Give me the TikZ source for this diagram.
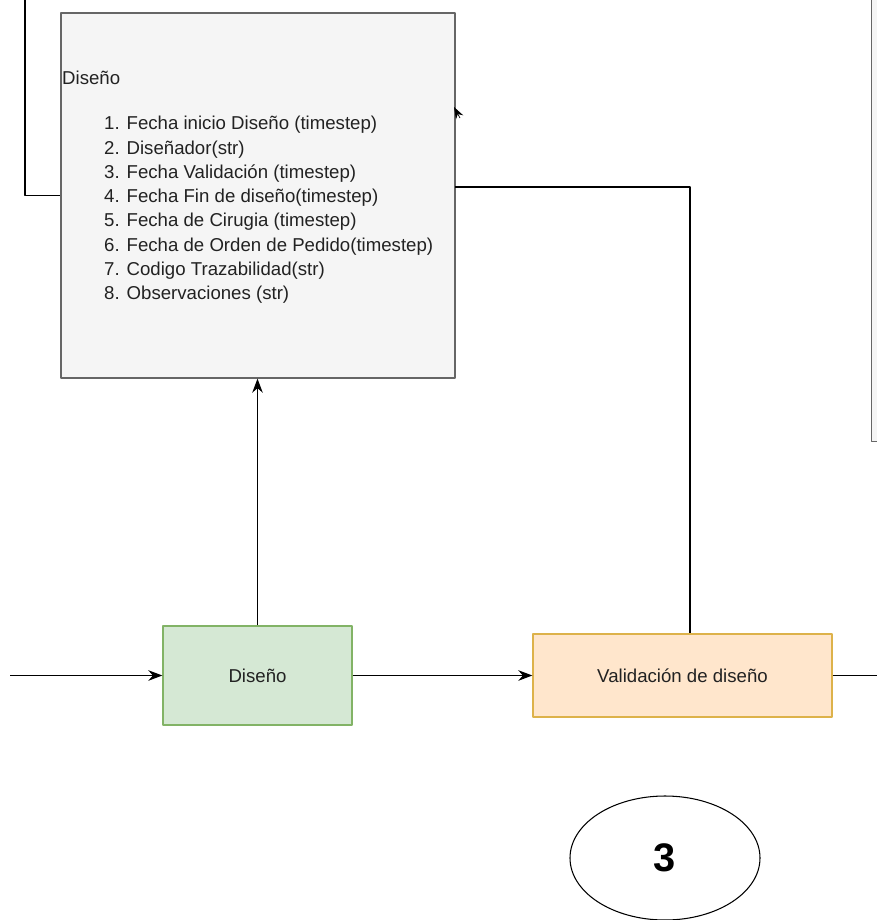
\documentclass[tikz,border=0pt]{standalone}
\usepackage{fontspec}
\setmainfont{Liberation Sans}
\usetikzlibrary{positioning,shapes.geometric,arrows.meta}

\definecolor{notefill}{HTML}{F5F5F5}
\definecolor{noteline}{HTML}{666666}
\definecolor{greenfill}{HTML}{D5E8D4}
\definecolor{greenline}{HTML}{82B366}
\definecolor{orangefill}{HTML}{FFE6CC}
\definecolor{orangeline}{HTML}{DDB24A}
\definecolor{textgray}{HTML}{222222}

\begin{document}
\begin{tikzpicture}[x=0.03cm, y=-0.03cm, line join=round,
    notebox/.style={draw=noteline, fill=notefill, line width=1.1pt, inner sep=0pt},
    greenbox/.style={draw=greenline, fill=greenfill, line width=1.1pt, inner sep=0pt},
    orangebox/.style={draw=orangeline, fill=orangefill, line width=1.1pt, inner sep=0pt},
    txt/.style={text=textgray, font=\fontsize{15.9}{20.75}\selectfont, inner sep=0pt},
    flow/.style={line width=1pt, -{Stealth[length=12pt, width=9pt]}}]
      \def\u{0.03cm}

      \useasboundingbox (0,0) rectangle (877,920);
      \clip (0,0) rectangle (877,920);

      % Note boxes
      \node[notebox, minimum width=394*\u, minimum height=365*\u] (info) at (258,195.5) {};
      \node[notebox, anchor=south west, minimum width=394*\u, minimum height=470*\u] (nextinfo) at (871,442) {};

      \node[txt, anchor=west] (infohead) at (62,78) {Diseño};
      \node[txt, anchor=north west, align=left] (infolist) at (104,116) {%
        1. Fecha inicio Diseño (timestep)\\
        2. Diseñador(str)\\
        3. Fecha Validación (timestep)\\
        4. Fecha Fin de diseño(timestep)\\
        5. Fecha de Cirugia (timestep)\\
        6. Fecha de Orden de Pedido(timestep)\\
        7. Codigo Trazabilidad(str)\\
        8. Observaciones (str)};

      % Process steps
      \node[greenbox, txt, minimum width=189*\u, minimum height=99*\u] (dis) at (257.5,675.5) {Diseño};
      \node[orangebox, txt, minimum width=299*\u, minimum height=83*\u] (val) at (682.5,675.5) {Validación de diseño};

      \node[draw, ellipse, line width=0.9pt, minimum width=190*\u, minimum height=124*\u,
            font=\bfseries\fontsize{34}{36}\selectfont] (num) at (665,858) {3};

      % Free ends
      \coordinate (topleft) at (25,-5);
      \coordinate (inL) at (10,675.5);
      \coordinate (outR) at (890,675.5);
      \coordinate (infoout) at (455,187);
      \coordinate (tipS) at (460,118);
      \coordinate (tipE) at (454,107);

      % Connectors
      \draw[line width=1pt] (topleft) |- (info.west);
      \draw[line width=1pt] (infoout) -| ([xshift=7.5*\u]val.north);
      \draw[flow] (dis.north) -- (dis.north |- info.south);
      \draw[flow] (inL) -- (dis.west);
      \draw[flow] (dis.east) -- (val.west);
      \draw[line width=1pt] (val.east) -- (outR);
      \draw[line width=0.6pt, -{Stealth[length=10pt, width=7pt]}] (tipS) -- (tipE);

    \end{tikzpicture}
\end{document}
